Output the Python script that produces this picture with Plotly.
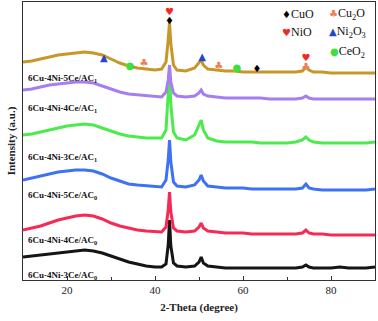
import plotly.graph_objects as go

two_theta = [10, 12, 14, 16, 18, 20, 22, 24, 26, 28, 30, 32, 34, 36, 38, 40, 41.5, 42.5, 43.0, 43.3, 43.6, 44.2, 45, 47, 49,
             50.0, 50.5, 51.0, 52, 54, 56, 58, 60, 62, 64, 66, 68, 70, 72, 73.5, 74.3, 75.0, 76, 78, 80, 82, 84, 86, 88, 90]

ac0_3ce = [23, 24, 25, 26, 27, 28, 29, 30, 29, 27, 24, 21, 18, 16, 14, 13, 13, 16, 35, 60, 34, 17, 14, 13, 14,
           18, 23, 17, 14, 13, 12, 12, 12, 12, 12, 12, 12, 12, 12, 13, 15, 13, 12, 12, 12, 13, 12, 12, 12, 13]
ac0_4ce = [50, 52, 54, 57, 60, 62, 64, 65, 64, 61, 57, 54, 52, 50, 49, 48, 48, 53, 70, 88, 68, 52, 49, 48, 49,
           53, 57, 52, 49, 48, 47, 47, 47, 46, 46, 46, 46, 46, 46, 47, 50, 47, 46, 46, 45, 45, 45, 45, 45, 45]
ac0_5ce = [100, 102, 104, 106, 108, 109, 110, 110, 109, 106, 102, 99, 96, 95, 94, 93, 93, 100, 120, 140, 118, 98, 94, 93, 95,
           100, 105, 99, 94, 93, 92, 92, 92, 91, 91, 91, 91, 91, 91, 92, 96, 92, 91, 90, 90, 90, 90, 90, 90, 91]
ac1_3ce = [145, 146, 148, 150, 152, 154, 155, 156, 155, 152, 149, 146, 144, 143, 142, 142, 142, 150, 180, 208, 175, 148, 142, 140, 145,
           154, 160, 150, 142, 139, 138, 138, 138, 138, 137, 137, 137, 137, 138, 140, 143, 140, 138, 137, 137, 137, 137, 137, 137, 138]
ac1_4ce = [190, 191, 193, 195, 196, 197, 198, 198, 197, 194, 191, 188, 186, 185, 184, 183, 183, 188, 200, 215, 198, 187, 184, 183, 184,
           187, 190, 186, 184, 183, 182, 182, 182, 182, 182, 181, 181, 181, 181, 182, 184, 182, 181, 181, 181, 181, 181, 181, 181, 181]
ac1_5ce = [218, 219, 221, 223, 225, 226, 227, 228, 227, 225, 221, 217, 214, 212, 211, 210, 211, 218, 240, 258, 236, 215, 210, 209, 212,
           217, 220, 215, 211, 210, 209, 209, 208, 208, 208, 208, 208, 208, 208, 209, 213, 210, 208, 208, 207, 207, 207, 207, 207, 207]

series_names = ["6Cu-4Ni-3Ce/AC<sub>0</sub>", "6Cu-4Ni-4Ce/AC<sub>0</sub>", "6Cu-4Ni-5Ce/AC<sub>0</sub>",
                "6Cu-4Ni-3Ce/AC<sub>1</sub>", "6Cu-4Ni-4Ce/AC<sub>1</sub>", "6Cu-4Ni-5Ce/AC<sub>1</sub>"]
series_vals = [ac0_3ce, ac0_4ce, ac0_5ce, ac1_3ce, ac1_4ce, ac1_5ce]
series_colors = ["#151515", "#F52A55", "#3F72F2", "#4CEB4C", "#A67EF0", "#C8972A"]
label_y = [5, 40, 85, 123, 172, 202]

# phase markers
cuo_x = [43.3, 63.2]; cuo_y = [259, 211]
nio_x = [43.3, 74.3]; nio_y = [268, 222]
cu2o_x = [37.5, 54.5, 74.3]; cu2o_y = [217, 214, 213]
ni2o3_x = [28.4, 50.7]; ni2o3_y = [222, 223]
ceo2_x = [34.3, 58.6]; ceo2_y = [214, 212]

phases = [
    ("♦", "CuO", "#000000", cuo_x, cuo_y, 68.3, 266),
    ("♥", "NiO", "#F02828", nio_x, nio_y, 68.3, 248),
    ("♣", "Cu<sub>2</sub>O", "#F08050", cu2o_x, cu2o_y, 79.2, 266),
    ("▲", "Ni<sub>2</sub>O<sub>3</sub>", "#2545D0", ni2o3_x, ni2o3_y, 79.2, 248),
    ("●", "CeO<sub>2</sub>", "#3CE03C", ceo2_x, ceo2_y, 79.4, 228),
]

fig = go.Figure()
for name, vals, col in zip(series_names, series_vals, series_colors):
    fig.add_trace(go.Scatter(x=two_theta, y=vals, mode="lines", line=dict(color=col, width=3),
                             name=name, showlegend=False))

for sym, lab, col, xs, ys, lx, ly in phases:
    fig.add_trace(go.Scatter(x=xs, y=ys, mode="text", text=[sym] * len(xs),
                             textfont=dict(family="DejaVu Sans", size=10, color=col),
                             showlegend=False))
    fig.add_annotation(x=lx, y=ly, xref="x", yref="y", xanchor="left", yanchor="middle", showarrow=False,
                       text=f"<span style='color:{col};font-family:DejaVu Sans;font-size:10px'>{sym}</span>{lab}",
                       font=dict(family="Liberation Serif", size=12, color="#111"))

for name, ly in zip(series_names, label_y):
    fig.add_annotation(x=10.6, y=ly, xref="x", yref="y", xanchor="left", yanchor="middle", showarrow=False,
                       text=f"<b>{name}</b>", font=dict(family="Liberation Serif", size=9, color="#111"))

fig.update_layout(
    width=378, height=321,
    margin=dict(l=23, r=3, t=2, b=41),
    paper_bgcolor="white", plot_bgcolor="white",
    font=dict(family="Liberation Serif", size=11, color="#222"),
    xaxis=dict(range=[10, 90], tickvals=[20, 40, 60, 80], ticks="inside", ticklen=4, tickcolor="#333",
               minor=dict(tickvals=[30, 50, 70], ticks="inside", ticklen=3, tickcolor="#333"),
               showline=True, linecolor="#333", linewidth=1, mirror=True, showgrid=False, zeroline=False,
               title=dict(text="<b>2-Theta (degree)</b>", font=dict(size=11), standoff=8),
               tickfont=dict(size=11)),
    yaxis=dict(range=[0, 278], showticklabels=False, ticks="", showline=True, linecolor="#333", linewidth=1,
               mirror=True, showgrid=False, zeroline=False,
               title=dict(text="<b>Intensity (a.u.)</b>", font=dict(size=11), standoff=4)),
)

fig.write_html("out.html")
